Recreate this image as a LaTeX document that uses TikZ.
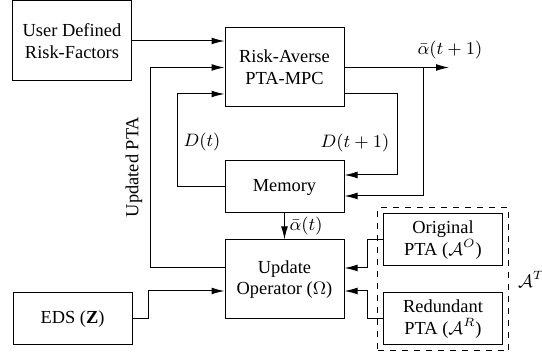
\documentclass[tikz,border=0pt]{standalone}
\usepackage{amsmath, amssymb}
\usepackage{fontspec}
\setmainfont{Liberation Serif}
\usetikzlibrary{positioning, calc, fit}
\usetikzlibrary{shapes,arrows.meta}
\tikzstyle{block} = [rectangle, draw, line width=0.5pt, minimum width=59.5pt,
    align=center, inner sep=1pt]
\tikzstyle{line} = [draw, line width=0.5pt, -{Latex[length=6.5pt,width=3.4pt]}]
\tikzstyle{tag} = [inner sep=1pt]

\begin{document}
\begin{tikzpicture}[x=0.5pt, y=-0.5pt, font=\fontsize{9.2}{10.8}\selectfont]
  \useasboundingbox (0,0) rectangle (542,356);
   % Place nodes
    \node [block, minimum height=40pt] (user) at (72,41) {User Defined\\Risk-Factors};
    \node [block, minimum height=39.5pt] (mpc) at (284.5,67.5) {Risk-Averse\\PTA-MPC};
    \node [block, minimum height=26pt] (mem) at (284.5,187) {Memory};
    \node [block, minimum height=39.5pt] (upd) at (284.5,279.5) {Update\\Operator ($\Omega$)};
    \node [block, minimum height=26pt] (eds) at (72.5,319) {EDS ($\mathbf{Z}$)};
    \node [block, minimum height=26pt] (orig) at (443,240) {Original\\PTA ($\mathcal{A}^O$)};
    \node [block, minimum height=26pt] (red) at (443,319) {Redundant\\PTA ($\mathcal{A}^R$)};
    \node [draw, dashed, line width=0.5pt, fit=(orig) (red), inner sep=2.75pt] (pta) {};
    \node [right=1pt of pta] (at) {$\mathcal{A}^T$};
    \coordinate (aout) at (449,67.5);
    \coordinate (tap) at (423,67.5);
   % Labels
    \node [tag, rotate=90] (updl) at (134,167) {Updated PTA};
    \node [tag] (dt) at (202,142) {$D(t)$};
    \node [tag] (dt1) at (355,143) {$D(t+1)$};
    \node [tag] (anext) at (450,50) {$\bar{\alpha}(t+1)$};
    \node [tag] (anow) at (306,226) {$\bar{\alpha}(t)$};
   % Draw edges
    \path [line] (user.east) -- (user.east -| mpc.west);
    \path [line] ([yshift=5.75pt]upd.west) -- ++(-74,0) |- (mpc.west);
    \path [line] (mem.west) -- ++(-47,0) |- ([yshift=-13.25pt]mpc.west);
    \path [line] ([yshift=-13.25pt]mpc.east) -- ++(53,0) |- ([yshift=6pt]mem.east);
    \path [line] (mpc.east) -- (aout);
    \path [line] (tap) |- ([yshift=-4.5pt]mem.east);
    \path [line] (mem.south) -- (upd.north);
    \path [line] (eds.east) -- ++(16,0) |- ([yshift=-5.75pt]upd.west);
    \path [line] (orig.west) -- ++(-16,0) |- ([yshift=5.75pt]upd.east);
    \path [line] (red.west) -- ++(-16,0) |- ([yshift=-5.75pt]upd.east);
  \end{tikzpicture}
\end{document}
